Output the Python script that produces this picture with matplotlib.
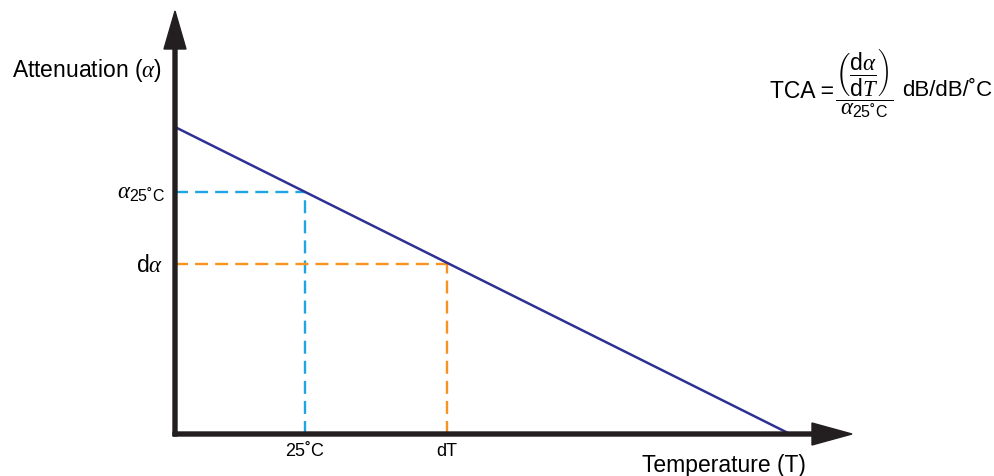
import matplotlib
matplotlib.use('Agg')
import matplotlib.pyplot as plt

# line of attenuation against temperature (units: arbitrary, 0 at the axis origin)
line_temp = [0, 615]
line_atten = [307, 0]

# reference point at 25 C and the dT point
t_25 = 130
atten_25 = 242
t_d = 272
atten_d = 170

x_labels = ['25˚C', 'dT']
y_labels = [r'$\alpha_{\mathsf{25˚C}}$', r'$\mathsf{d}\alpha$']

plt.rcParams['font.family'] = ['Liberation Sans', 'DejaVu Sans']
plt.rcParams['mathtext.fontset'] = 'custom'
plt.rcParams['mathtext.rm'] = 'Liberation Sans'
plt.rcParams['mathtext.sf'] = 'Liberation Sans'
plt.rcParams['mathtext.it'] = 'Liberation Serif:italic'

fig = plt.figure(figsize=(9.95, 4.77), dpi=100)
ax = fig.add_axes([0, 0, 1, 1])
ax.set_xlim(-175, 820)
ax.set_ylim(-42, 435)
ax.axis('off')

axis_col = '#231f20'
cyan = '#1ea5e3'
orange = '#f7931e'
navy = '#2e3192'
dash = (0, (5.5, 3))

# dashed guide lines
ax.plot([0, t_25], [atten_25, atten_25], color=cyan, lw=1.7, linestyle=dash)
ax.plot([t_25, t_25], [0, atten_25], color=cyan, lw=1.7, linestyle=dash)
ax.plot([0, t_d], [atten_d, atten_d], color=orange, lw=1.7, linestyle=dash)
ax.plot([t_d, t_d], [0, atten_d], color=orange, lw=1.7, linestyle=dash)

# main line
ax.plot(line_temp, line_atten, color=navy, lw=1.8)

# axes with arrow heads
ax.arrow(0, -2, 0, 425, width=4, head_width=22, head_length=38,
         length_includes_head=True, color=axis_col, zorder=5)
ax.arrow(-2, 0, 679, 0, width=4, head_width=22, head_length=40,
         length_includes_head=True, color=axis_col, zorder=5)

# tick style labels
ax.text(t_25, -8, x_labels[0], ha='center', va='top', fontsize=13)
ax.text(t_d, -8, x_labels[1], ha='center', va='top', fontsize=13)
ax.text(-10, atten_25, y_labels[0], ha='right', va='center', fontsize=16.5)
ax.text(-12, atten_d, y_labels[1], ha='right', va='center', fontsize=16.5)

ax.text(-163, 365, r'Attenuation ($\alpha$)', ha='left', va='center', fontsize=16.5)
ax.text(549, -31, 'Temperature (T)', ha='center', va='center', fontsize=16.5)

ax.text(595, 344, 'TCA =', ha='left', va='center', fontsize=16.5)
ax.text(660, 351,
        r'$\dfrac{\left(\dfrac{\mathsf{d}\alpha}{\mathsf{d}T}\right)}'
        r'{\alpha_{\mathsf{25˚C}}}$',
        ha='left', va='center', fontsize=16.5)
ax.text(727, 344, 'dB/dB/˚C', ha='left', va='center', fontsize=16)

fig.savefig('out.png', dpi=100)
